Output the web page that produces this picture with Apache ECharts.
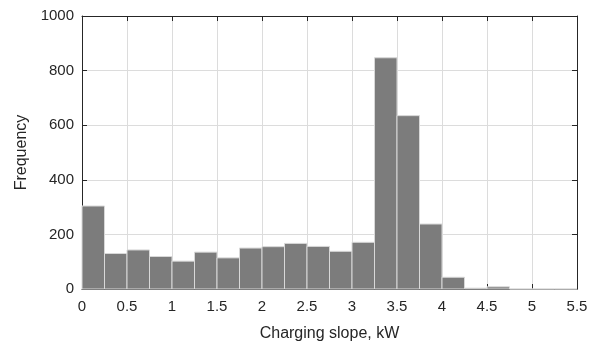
<!DOCTYPE html>
<html><head><meta charset="utf-8">
<script src="https://cdn.jsdelivr.net/npm/echarts@6/dist/echarts.min.js"></script>
<style>html,body{margin:0;padding:0;background:#fff}#c{width:602px;height:347px}</style>
</head><body><div id="c"></div>
<script>
const binStarts = [0,0.25,0.5,0.75,1,1.25,1.5,1.75,2,2.25,2.5,2.75,3,3.25,3.5,3.75,4,4.25,4.5,4.75,5,5.25];
const binWidth = 0.25;
const counts = [304,130,143,119,102,135,114,150,155,167,156,138,171,847,635,238,43,3,8,0,0,0];
const xTicks = [0,0.5,1,1.5,2,2.5,3,3.5,4,4.5,5,5.5];
const yTicks = [0,200,400,600,800,1000];

const chart = echarts.init(document.getElementById('c'), null, {renderer:'canvas'});
const font = 'Liberation Sans, Arial, sans-serif';
const data = binStarts.map((s,i)=>[s, s+binWidth, counts[i]]);
const axisCommon = {
  axisLine:{show:true, onZero:false, lineStyle:{color:'#262626', width:1}},
  axisTick:{show:true, inside:true, length:5, lineStyle:{color:'#262626'}},
};
chart.setOption({
  animation:false,
  grid:{left:82, right:25, top:16, bottom:54, containLabel:false},
  xAxis:[{
    type:'value', min:xTicks[0], max:xTicks[xTicks.length-1], interval:0.5, position:'bottom',
    ...axisCommon,
    axisLabel:{color:'#262626', fontFamily:font, fontSize:15, margin:10, formatter:v=>String(v)},
    splitLine:{show:true, lineStyle:{color:'#dcdcdc', width:1}},
    name:'Charging slope, kW', nameLocation:'middle', nameGap:37,
    nameTextStyle:{color:'#262626', fontFamily:font, fontSize:16}
  },{
    type:'value', min:xTicks[0], max:xTicks[xTicks.length-1], interval:0.5, position:'top',
    ...axisCommon, axisLabel:{show:false}, splitLine:{show:false}
  }],
  yAxis:[{
    type:'value', min:yTicks[0], max:yTicks[yTicks.length-1], interval:200, position:'left',
    ...axisCommon,
    axisLabel:{color:'#262626', fontFamily:font, fontSize:15, margin:8, formatter:v=>String(v)},
    splitLine:{show:true, lineStyle:{color:'#dcdcdc', width:1}},
    name:'Frequency', nameLocation:'middle', nameGap:51,
    nameTextStyle:{color:'#262626', fontFamily:font, fontSize:16}
  },{
    type:'value', min:yTicks[0], max:yTicks[yTicks.length-1], interval:200, position:'right',
    ...axisCommon, axisLabel:{show:false}, splitLine:{show:false}
  }],
  series:[{
    type:'custom',
    xAxisIndex:0, yAxisIndex:0,
    encode:{x:[0,1], y:2},
    data:data,
    renderItem:function(params, api){
      const p0 = api.coord([api.value(0), api.value(2)]);
      const p1 = api.coord([api.value(1), 0]);
      return {
        type:'rect',
        shape:{x:p0[0], y:p0[1], width:p1[0]-p0[0], height:p1[1]-p0[1]},
        style:{fill:'#7c7c7c', stroke:'#d8d8d8', lineWidth:1}
      };
    }
  }]
});
</script></body></html>
